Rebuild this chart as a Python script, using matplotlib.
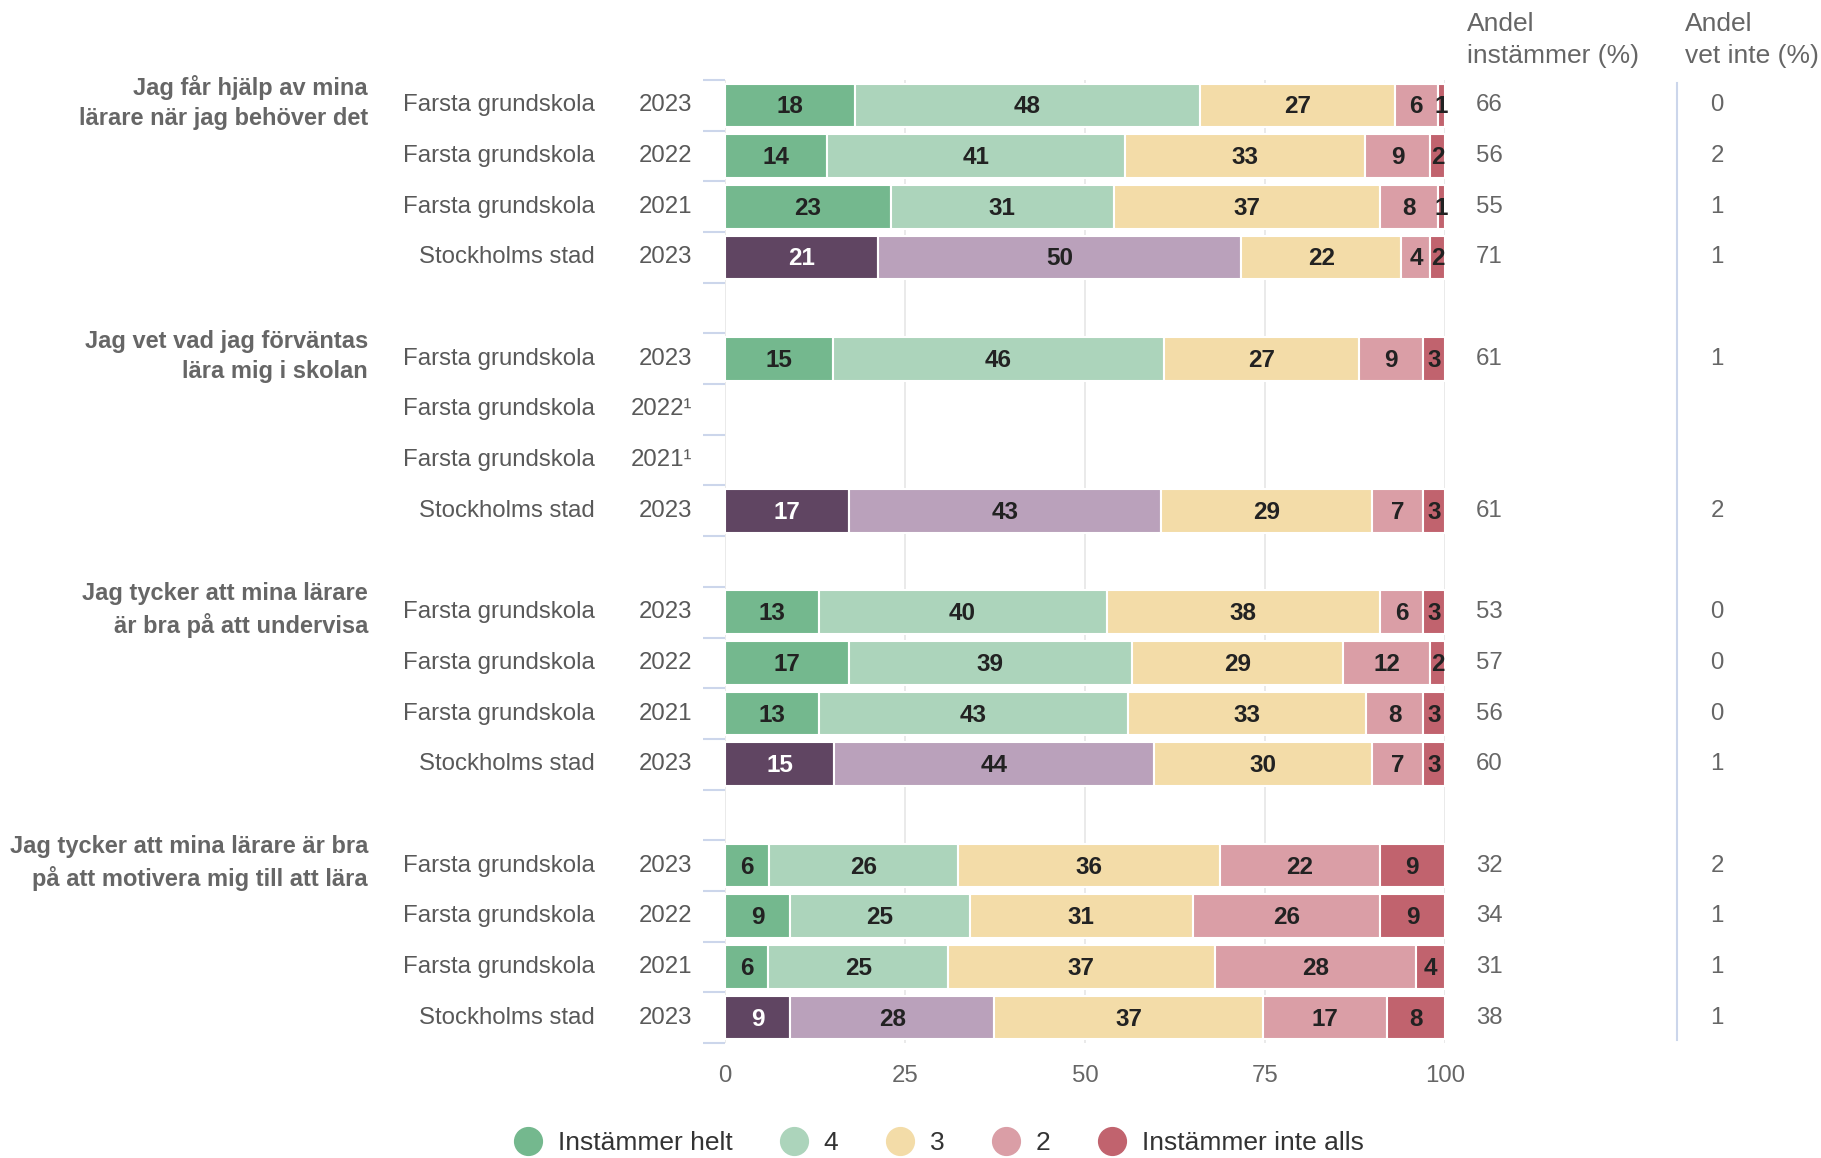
import numpy as np
import matplotlib
matplotlib.use("Agg")
import matplotlib.pyplot as plt
from matplotlib.lines import Line2D

plt.rcParams['font.family'] = ['Liberation Sans', 'DejaVu Sans']

# --- data -------------------------------------------------------------
questions = [
    "Jag får hjälp av mina\nlärare när jag behöver det",
    "Jag vet vad jag förväntas\nlära mig i skolan",
    "Jag tycker att mina lärare\när bra på att undervisa",
    "Jag tycker att mina lärare är bra\npå att motivera mig till att lära",
]
units = ["Farsta grundskola", "Farsta grundskola", "Farsta grundskola", "Stockholms stad"] * 4
years = ["2023", "2022", "2021", "2023",
         "2023", "2022\u00b9", "2021\u00b9", "2023",
         "2023", "2022", "2021", "2023",
         "2023", "2022", "2021", "2023"]

nan = np.nan
helt = [18, 14, 23, 21, 15, nan, nan, 17, 13, 17, 13, 15, 6, 9, 6, 9]
fyra = [48, 41, 31, 50, 46, nan, nan, 43, 40, 39, 43, 44, 26, 25, 25, 28]
tre = [27, 33, 37, 22, 27, nan, nan, 29, 38, 29, 33, 30, 36, 31, 37, 37]
tva = [6, 9, 8, 4, 9, nan, nan, 7, 6, 12, 8, 7, 22, 26, 28, 17]
inte = [1, 2, 1, 2, 3, nan, nan, 3, 3, 2, 3, 3, 9, 9, 4, 8]

andel_instammer = [66, 56, 55, 71, 61, None, None, 61, 53, 57, 56, 60, 32, 34, 31, 38]
andel_vet_inte = [0, 2, 1, 1, 1, None, None, 2, 0, 0, 0, 1, 2, 1, 1, 1]

series_names = ["Instämmer helt", "4", "3", "2", "Instämmer inte alls"]
colors = ["#74b88e", "#acd4bb", "#f3dca8", "#da9ea6", "#c1636e"]
stad_colors = ["#604562", "#baa1bb"]

# --- figure -----------------------------------------------------------
fig = plt.figure(figsize=(18.21, 11.58), dpi=100)
ax = fig.add_axes([725 / 1821, 1 - 1043 / 1158, 720 / 1821, 963 / 1158])

series = np.array([helt, fyra, tre, tva, inte], dtype=float)
ypos = [g * 5 + r for g in range(4) for r in range(4)]
ytr = ax.get_yaxis_transform()

for i, y in enumerate(ypos):
    vals = series[:, i]
    if np.isnan(vals).any():
        continue
    scaled = vals / vals.sum() * 100
    left = 0
    is_stad = units[i] == "Stockholms stad"
    for k in range(5):
        c = colors[k]
        if is_stad and k < 2:
            c = stad_colors[k]
        ax.barh(y, scaled[k], left=left, height=0.86, color=c,
                edgecolor="white", linewidth=1.5, zorder=3)
        tc = "white" if (is_stad and k == 0) else "#222222"
        ax.text(left + scaled[k] / 2, y + 0.03, f"{int(vals[k])}", ha="center", va="center",
                fontsize=17.5, fontweight="bold", color=tc, zorder=4)
        left += scaled[k]

# row labels
for i, y in enumerate(ypos):
    ax.text(-0.1806, y, units[i], transform=ytr, ha="right", va="center",
            fontsize=17.3, color="#595959")
    ax.text(-0.0458, y, years[i], transform=ytr, ha="right", va="center",
            fontsize=17.3, color="#595959")
    if andel_instammer[i] is not None:
        ax.text(1.043, y, str(andel_instammer[i]), transform=ytr, ha="left",
                va="center", fontsize=17.3, color="#666666")
        ax.text(1.378, y, str(andel_vet_inte[i]), transform=ytr, ha="center",
                va="center", fontsize=17.3, color="#666666")

for g, q in enumerate(questions):
    ax.text(-0.4958, g * 5 - 0.05, q, transform=ytr, ha="right", va="center",
            fontsize=17, fontweight="bold", color="#666666", linespacing=1.4)

# separator line for the right-hand table
ax.plot([1.322, 1.322], [-0.45, 18.45], transform=ytr, color="#ccd6eb",
        lw=1.5, clip_on=False)

fig.text(1467 / 1821, 1 - 12 / 1158, "Andel\ninstämmer (%)", ha="left", va="top",
         fontsize=19, color="#666666", linespacing=1.42)
fig.text(1685 / 1821, 1 - 12 / 1158, "Andel\nvet inte (%)", ha="left", va="top",
         fontsize=19, color="#666666", linespacing=1.42)

# axes styling
ax.set_xlim(0, 100)
ax.set_ylim(18.5, -0.5)
ax.set_xticks([0, 25, 50, 75, 100])
ax.set_xticklabels(["0", "25", "50", "75", "100"])
ax.tick_params(axis="x", length=0, pad=16, labelsize=17.3, labelcolor="#666666")
ax.set_yticks(np.arange(-0.5, 19, 1))
ax.set_yticklabels([])
ax.tick_params(axis="y", length=16, width=1.5, color="#ccd6eb")
ax.grid(axis="x", color="#e6e6e6", lw=1.2)
ax.set_axisbelow(True)
for s in ax.spines.values():
    s.set_visible(False)

# legend
handles = [Line2D([0], [0], marker="o", linestyle="", markersize=20,
                  markerfacecolor=c, markeredgecolor=c) for c in colors]
fig.legend(handles, series_names, loc="center", ncol=5,
           bbox_to_anchor=(940 / 1821, 1 - 1143 / 1158), frameon=False,
           fontsize=19, labelcolor="#333333", handlelength=0.9,
           handletextpad=0.66, columnspacing=1.9)

fig.savefig("out.png", dpi=100)
